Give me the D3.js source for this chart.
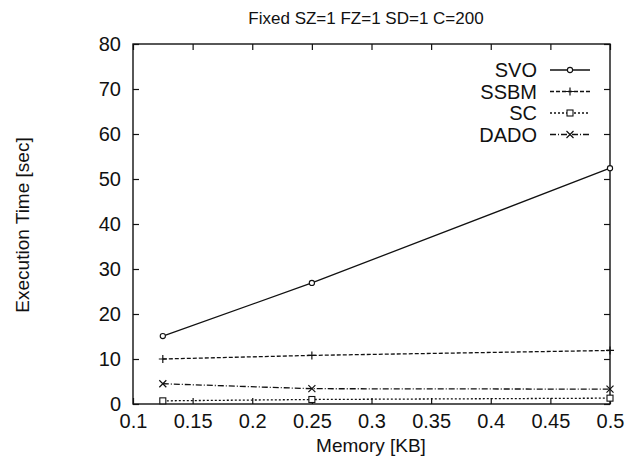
<!DOCTYPE html>
<html>
<head>
<meta charset="utf-8">
<script src="https://cdn.jsdelivr.net/npm/d3@7"></script>
<style>
  body { margin: 0; background: #fff; }
  svg text { font-family: "Liberation Sans", Arial, Helvetica, sans-serif; fill: #111; }
</style>
</head>
<body>
<div id="chart"></div>
<script>
'use strict';

// data
var memory = [0.125, 0.25, 0.5];
var svo    = [15.1, 26.9, 52.4];
var ssbm   = [10.0, 10.8, 11.9];
var sc     = [0.7, 1.0, 1.3];
var dado   = [4.5, 3.4, 3.3];

var seriesNames = ["SVO", "SSBM", "SC", "DADO"];
var xTicks = [0.1, 0.15, 0.2, 0.25, 0.3, 0.35, 0.4, 0.45, 0.5];
var yTicks = [0, 10, 20, 30, 40, 50, 60, 70, 80];

var W = 630, H = 458;
var margin = { left: 133, right: 20, top: 44, bottom: 54 };

var svg = d3.select("#chart").append("svg")
  .attr("width", W).attr("height", H);

var x = d3.scaleLinear().domain([0.1, 0.5]).range([margin.left, W - margin.right]);
var y = d3.scaleLinear().domain([0, 80]).range([H - margin.bottom, margin.top]);

var styles = {
  "SVO":  { dash: null,        marker: "circle" },
  "SSBM": { dash: "4,2",       marker: "plus" },
  "SC":   { dash: "2,2",       marker: "square" },
  "DADO": { dash: "6,2,1,2",   marker: "cross" }
};
var values = { "SVO": svo, "SSBM": ssbm, "SC": sc, "DADO": dado };

// frame
svg.append("rect")
  .attr("x", x(0.1)).attr("y", y(80))
  .attr("width", x(0.5) - x(0.1)).attr("height", y(0) - y(80))
  .attr("fill", "none").attr("stroke", "#111").attr("stroke-width", 1.4);

// axes with inward ticks, mirrored on the opposite side
var tickLen = 6;
svg.append("g")
  .attr("transform", "translate(0," + y(0) + ")")
  .call(d3.axisBottom(x).tickValues(xTicks).tickSizeInner(-tickLen).tickSizeOuter(0).tickPadding(10)
    .tickFormat(function(d) { return d3.format("")(+d.toFixed(2)); }))
  .call(function(g) {
    g.select(".domain").remove();
    g.selectAll("text").style("font-size", "20px");
  });
svg.append("g")
  .attr("transform", "translate(0," + y(80) + ")")
  .call(d3.axisTop(x).tickValues(xTicks).tickSizeInner(-tickLen).tickSizeOuter(0).tickFormat(""))
  .call(function(g) { g.select(".domain").remove(); });

svg.append("g")
  .attr("transform", "translate(" + x(0.1) + ",0)")
  .call(d3.axisLeft(y).tickValues(yTicks).tickSizeInner(-tickLen).tickSizeOuter(0).tickPadding(12))
  .call(function(g) {
    g.select(".domain").remove();
    g.selectAll("text").style("font-size", "20px");
  });
svg.append("g")
  .attr("transform", "translate(" + x(0.5) + ",0)")
  .call(d3.axisRight(y).tickValues(yTicks).tickSizeInner(-tickLen).tickSizeOuter(0).tickFormat(""))
  .call(function(g) { g.select(".domain").remove(); });

svg.selectAll(".tick line").attr("stroke", "#111").attr("stroke-width", 1.2);

// marker helper
function drawMarker(g, kind, cx, cy) {
  var s = 3;
  if (kind === "circle") {
    g.append("circle").attr("cx", cx).attr("cy", cy).attr("r", 2.6)
      .attr("fill", "#fff").attr("stroke", "#111").attr("stroke-width", 1.1);
  } else if (kind === "square") {
    g.append("rect").attr("x", cx - s).attr("y", cy - s).attr("width", 2 * s).attr("height", 2 * s)
      .attr("fill", "#fff").attr("stroke", "#111").attr("stroke-width", 1.1);
  } else if (kind === "plus") {
    g.append("path").attr("d", "M" + (cx - 4) + "," + cy + "H" + (cx + 4) + "M" + cx + "," + (cy - 4) + "V" + (cy + 4))
      .attr("stroke", "#111").attr("stroke-width", 1.2);
  } else {
    g.append("path").attr("d", "M" + (cx - 3.5) + "," + (cy - 3.5) + "L" + (cx + 3.5) + "," + (cy + 3.5) +
        "M" + (cx - 3.5) + "," + (cy + 3.5) + "L" + (cx + 3.5) + "," + (cy - 3.5))
      .attr("stroke", "#111").attr("stroke-width", 1.2);
  }
}

var line = d3.line().x(function(d) { return x(d[0]); }).y(function(d) { return y(d[1]); });

seriesNames.forEach(function(name) {
  var pts = memory.map(function(m, i) { return [m, values[name][i]]; });
  var g = svg.append("g");
  g.append("path").datum(pts).attr("d", line)
    .attr("fill", "none").attr("stroke", "#111").attr("stroke-width", 1.3)
    .attr("stroke-dasharray", styles[name].dash);
  pts.forEach(function(p) { drawMarker(g, styles[name].marker, x(p[0]), y(p[1])); });
});

// legend
var legendTop = 70, legendStep = 21.5;
seriesNames.forEach(function(name, i) {
  var ly = legendTop + i * legendStep;
  var g = svg.append("g");
  g.append("text").attr("x", 537).attr("y", ly).attr("dy", "0.36em")
    .attr("text-anchor", "end").style("font-size", "20px").text(name);
  g.append("line").attr("x1", 550).attr("x2", 590).attr("y1", ly).attr("y2", ly)
    .attr("stroke", "#111").attr("stroke-width", 1.3)
    .attr("stroke-dasharray", styles[name].dash);
  drawMarker(g, styles[name].marker, 570, ly);
});

// titles
svg.append("text").attr("x", 366).attr("y", 24).attr("text-anchor", "middle")
  .style("font-size", "17px").text("Fixed SZ=1 FZ=1 SD=1 C=200");
svg.append("text").attr("x", 371).attr("y", 452).attr("text-anchor", "middle")
  .style("font-size", "19px").text("Memory [KB]");
svg.append("text").attr("transform", "translate(29,225) rotate(-90)").attr("text-anchor", "middle")
  .style("font-size", "19px").text("Execution Time [sec]");
</script>
</body>
</html>
